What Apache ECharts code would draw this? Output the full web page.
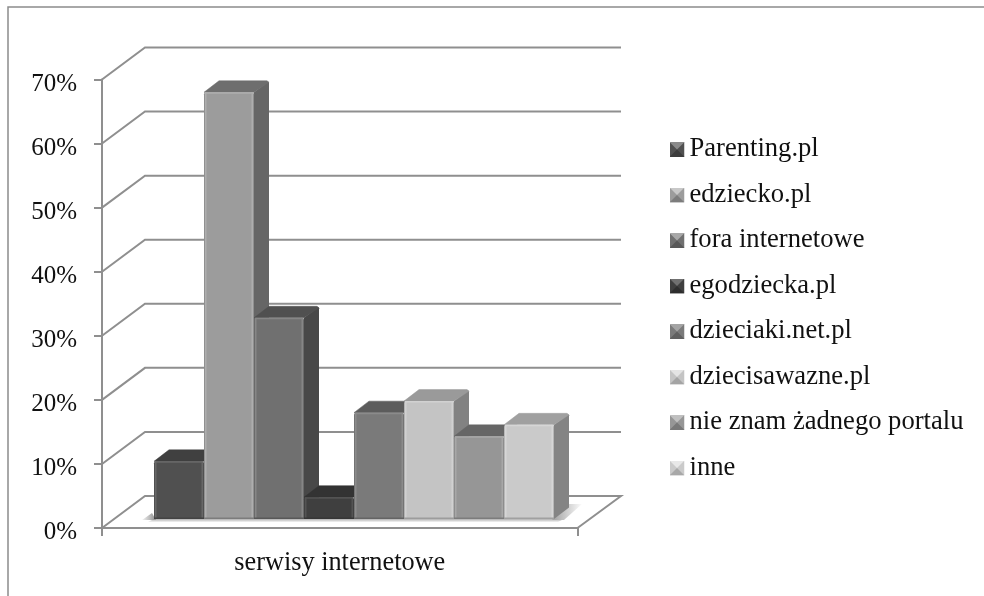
<!DOCTYPE html>
<html><head><meta charset="utf-8">
<style>html,body{margin:0;padding:0;background:#fff}#c{width:984px;height:596px}</style>
<script src="https://cdn.jsdelivr.net/npm/echarts@6/dist/echarts.min.js"></script>
</head><body><div id="c"></div>
<script>
var categories = ['serwisy internetowe'];
var seriesNames = ['Parenting.pl','edziecko.pl','fora internetowe','egodziecka.pl','dzieciaki.net.pl','dziecisawazne.pl','nie znam żadnego portalu','inne'];
var seriesValues = [9, 66.6, 31.4, 3.4, 16.6, 18.4, 12.9, 14.7];
var yTicks = [0,10,20,30,40,50,60,70];
var frontColors = ['#505050','#9c9c9c','#707070','#3f3f3f','#7a7a7a','#c4c4c4','#969696','#cacaca'];
var topColors   = ['#404040','#6e6e6e','#505050','#333333','#5c5c5c','#9a9a9a','#666666','#a0a0a0'];
var sideColors  = ['#3a3a3a','#666666','#484848','#303030','#555555','#828282','#6a6a6a','#848484'];
var iconLight   = ['#8a8a8a','#c8c8c8','#a8a8a8','#707070','#a4a4a4','#e4e4e4','#c0c0c0','#e8e8e8'];
var iconDark    = ['#3c3c3c','#7c7c7c','#585858','#2e2e2e','#606060','#a4a4a4','#787878','#a8a8a8'];

var gridColor = '#8f8f8f';
var DX = 43, DY = 32;
var BAR_W = 50, SIDE_X = 15, SIDE_Y = 11.5, BASE_X = 12, BASE_Y = 9, START = 40;

function mix(a, b, t){
  var pa = parseInt(a.slice(1),16), pb = parseInt(b.slice(1),16), out = '#';
  [16,8,0].forEach(function(s){
    var v = Math.round(((pa>>s)&255)*(1-t) + ((pb>>s)&255)*t);
    out += ('0'+v.toString(16)).slice(-2);
  });
  return out;
}

function icon(i){
  var svg = "<svg xmlns='http://www.w3.org/2000/svg' width='15' height='15'>"
   + "<rect width='15' height='15' fill='"+frontColors[i]+"'/>"
   + "<polygon points='0,0 15,0 7.5,7.5' fill='"+iconLight[i]+"'/>"
   + "<polygon points='0,15 15,15 7.5,7.5' fill='"+iconDark[i]+"'/>"
   + "</svg>";
  return 'image://data:image/svg+xml;charset=utf-8,' + encodeURIComponent(svg);
}

function renderWall(params, api){
  var y = api.coord([0, api.value(0)])[1];
  var cs = params.coordSys;
  var x0 = cs.x, x1 = cs.x + cs.width;
  var pts = [[x0,y],[x0+DX,y-DY],[x1+DX+0.5,y-DY]];
  if (api.value(0) === 0) pts.push([x1,y]);
  return {type:'polyline', shape:{points:pts}, style:{stroke:gridColor, lineWidth:2, fill:null}, silent:true};
}

function renderFloorShadow(params, api){
  var y = api.coord([0,0])[1];
  var L = params.coordSys.x;
  return {type:'group', silent:true, children:[
    {type:'polygon', shape:{points:[[L+52,y-9],[L+462,y-9],[L+456,y-6],[L+46,y-6]]},
      style:{fill:{type:'linear',x:0,y:0,x2:0,y2:1,colorStops:[{offset:0,color:'#b0b0b0'},{offset:1,color:'#f4f4f4'}]}}},
    {type:'polygon', shape:{points:[[L+40,y-8],[L+50,y-15],[L+54,y-8]]},
      style:{fill:{type:'linear',x:0,y:0,x2:1,y2:0,colorStops:[{offset:0,color:'#f4f4f4'},{offset:1,color:'#8c8c8c'}]}}},
    {type:'polygon', shape:{points:[[L+450,y-8],[L+465,y-24],[L+480,y-24],[L+462,y-8]]},
      style:{fill:{type:'linear',x:0,y:0,x2:1,y2:0,colorStops:[{offset:0,color:'#a0a0a0'},{offset:1,color:'#fcfcfc'}]}}}
  ]};
}

function barRenderer(i){
  return function(params, api){
    var c = api.coord([0, api.value(1)]);
    var zero = api.coord([0, 0]);
    var band = api.size([1, 0])[0];
    var left = c[0] - band/2 + START + BASE_X + i*BAR_W;
    var r = left + BAR_W;
    var t = c[1] - BASE_Y;
    var b = zero[1] - BASE_Y;
    var sx = SIDE_X, sy = SIDE_Y;
    var f = frontColors[i];
    var bevel = mix(f, iconLight[i], 0.4);
    return {type:'group', silent:true, children:[
      {type:'polygon', shape:{points:[[r,t],[r+sx-1,t-sy+1],[r+sx,t-sy+2],[r+sx,b-sy],[r,b]]},
        style:{fill:sideColors[i]}},
      {type:'polygon', shape:{points:[[left,t],[left+sx,t-sy],[r+sx-2,t-sy],[r+sx,t-sy+1.5],[r,t]]},
        style:{fill:topColors[i], stroke:topColors[i], lineWidth:0.5, lineJoin:'round'}},
      {type:'rect', shape:{x:left,y:t,width:BAR_W,height:b-t, r:[2,2,0,0]},
        style:{fill:{type:'linear',x:0,y:0,x2:1,y2:0,colorStops:[
          {offset:0,color:mix(f,sideColors[i],0.5)},{offset:0.03,color:bevel},{offset:0.07,color:f},
          {offset:0.93,color:f},{offset:0.97,color:bevel},{offset:1,color:mix(f,sideColors[i],0.5)}]}}},
      {type:'rect', shape:{x:left+1,y:t,width:BAR_W-2,height:1.5}, style:{fill:bevel}},
      {type:'rect', shape:{x:left,y:b-1.5,width:BAR_W,height:1.5}, style:{fill:mix(f,sideColors[i],0.6)}}
    ]};
  };
}

var series = [
  {type:'custom', name:'_walls', data:yTicks.map(function(v){return [v];}), encode:{y:0}, renderItem:renderWall, z:1, silent:true},
  {type:'custom', name:'_shadow', data:[[0]], encode:{y:0}, renderItem:renderFloorShadow, z:2, silent:true}
];
seriesNames.forEach(function(n,i){
  series.push({type:'custom', name:n, data:[[0, seriesValues[i]]], encode:{x:0,y:1},
    renderItem:barRenderer(i), itemStyle:{color:frontColors[i]}, z:3+i, silent:true});
});

var font = '"Liberation Serif","Times New Roman",serif';
var chart = echarts.init(document.getElementById('c'), null, {renderer:'canvas'});
chart.setOption({
  animation:false, backgroundColor:'#fff',
  textStyle:{fontFamily:font},
  grid:{left:102, right:406.5, top:79.5, bottom:68, containLabel:false},
  xAxis:{type:'category', data:categories, boundaryGap:true,
    axisLine:{show:true, lineStyle:{color:gridColor,width:2}},
    axisTick:{show:true, alignWithLabel:false, length:8, lineStyle:{color:gridColor,width:2}},
    axisLabel:{color:'#111', fontFamily:font, fontSize:26.3, margin:22}},
  yAxis:{type:'value', min:0, max:70, interval:10,
    axisLine:{show:true, lineStyle:{color:gridColor,width:2}},
    axisTick:{show:true, length:8, lineStyle:{color:gridColor,width:2}},
    splitLine:{show:false},
    axisLabel:{color:'#111', fontFamily:font, fontSize:25, margin:25, verticalAlign:'top', padding:[-8,0,0,0], formatter:'{value}%'}},
  legend:{orient:'vertical', left:664.5, top:130.5, itemWidth:15, itemHeight:15, itemGap:17.5, selectedMode:false,
    textStyle:{color:'#111', fontFamily:font, fontSize:26.6, lineHeight:28, padding:0},
    data:seriesNames.map(function(n,i){return {name:n, icon:icon(i)};})},
  graphic:[{type:'polyline', silent:true, shape:{points:[[8,596],[8,7],[984,7]]},
    style:{stroke:'#8c8c8c', lineWidth:1.5, fill:null}}],
  series:series
});
</script></body></html>
